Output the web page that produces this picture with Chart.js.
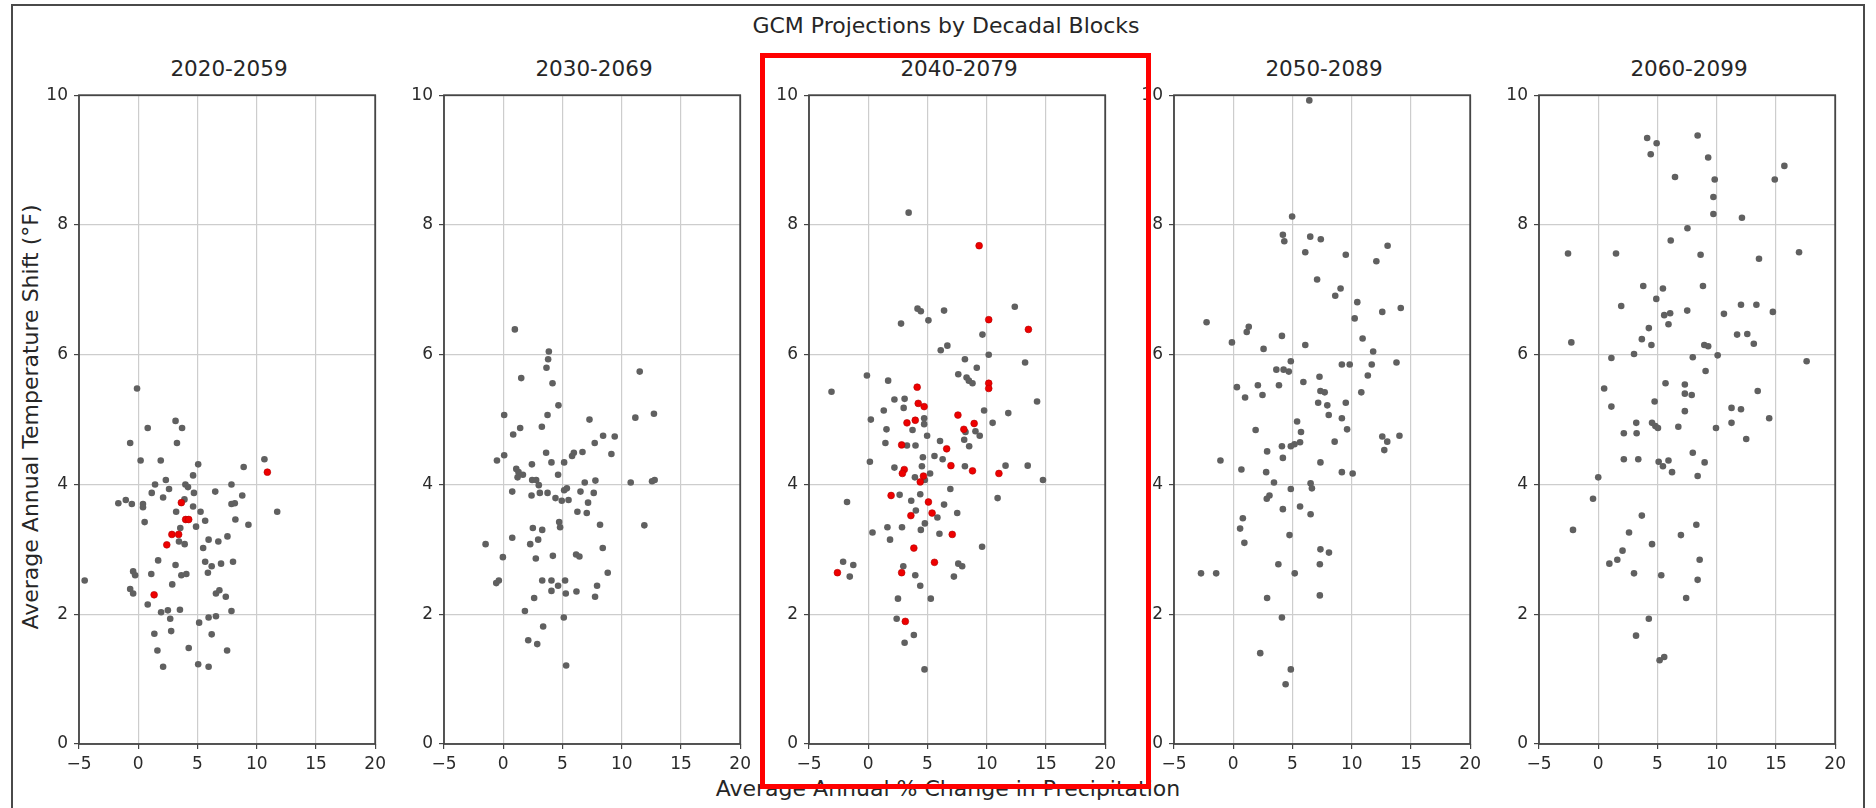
<!DOCTYPE html>
<html>
<head>
<meta charset="utf-8">
<title>GCM Projections by Decadal Blocks</title>
<script src="https://cdn.jsdelivr.net/npm/chart.js@4.4.0/dist/chart.umd.min.js"></script>
<style>
  body {
    margin: 0;
    width: 1876px;
    height: 808px;
    background: #fff;
    overflow: hidden;
    position: relative;
    font-family: "DejaVu Sans", sans-serif;
    color: #262626;
  }
  .frame {
    position: absolute;
    left: 11px;
    top: 4px;
    width: 1854px;
    height: 830px;
    border: 2px solid #4a4a4a;
    box-sizing: border-box;
  }
  .hilite {
    position: absolute;
    left: 760px;
    top: 53px;
    width: 391px;
    height: 736px;
    border: 5px solid #ff0000;
    box-sizing: border-box;
    z-index: 5;
  }
  .panel {
    position: absolute;
  }
  .ptitle {
    position: absolute;
    top: 56px;
    width: 300px;
    text-align: center;
    font-size: 21.5px;
    line-height: 26px;
  }
  .title {
    position: absolute;
    left: 0;
    width: 1892px;
    top: 13px;
    text-align: center;
    font-size: 22px;
    line-height: 26px;
  }
  .xlabel {
    position: absolute;
    left: 0;
    width: 1896px;
    top: 776px;
    text-align: center;
    font-size: 22px;
    line-height: 26px;
  }
  .ylabel {
    position: absolute;
    left: 31px;
    top: 417px;
    width: 480px;
    margin-left: -240px;
    margin-top: -13px;
    text-align: center;
    font-size: 22px;
    line-height: 26px;
    transform: rotate(-90deg);
  }
</style>
</head>
<body>
<div class="frame"></div>
<div class="title">GCM Projections by Decadal Blocks</div>
<div class="ylabel">Average Annual Temperature Shift (°F)</div>
<div class="xlabel">Average Annual % Change in Precipitation</div>
<div id="panels"></div>
<div class="hilite"></div>

<script>
// panel titles
const blocks = ["2020-2059", "2030-2069", "2040-2079", "2050-2089", "2060-2099"];

// axis ticks
const xTicks = [-5, 0, 5, 10, 15, 20];
const yTicks = [0, 2, 4, 6, 8, 10];

// 2020-2059
const gray2020 = [
  [-0.1, 5.48], [3.15, 4.98], [3.7, 4.87], [0.8, 4.87], [3.27, 4.64], [-0.68, 4.64],
  [0.2, 4.37], [1.9, 4.37], [5.06, 4.31], [10.65, 4.39], [8.9, 4.27], [4.63, 4.14],
  [7.87, 4.0], [2.33, 4.07], [1.42, 4.0], [2.6, 3.93], [3.98, 4.0], [4.2, 3.96],
  [4.7, 3.87], [1.14, 3.87], [6.5, 3.89], [2.1, 3.8], [8.78, 3.83], [-1.68, 3.71],
  [-1.05, 3.76], [-0.54, 3.7], [0.4, 3.7], [0.4, 3.65], [3.9, 3.77], [7.87, 3.7],
  [8.15, 3.71], [11.73, 3.58], [4.63, 3.66], [3.2, 3.58], [5.26, 3.58], [0.54, 3.42],
  [5.65, 3.44], [8.2, 3.46], [9.3, 3.38], [4.88, 3.35], [3.55, 3.33], [5.94, 3.15],
  [6.76, 3.12], [7.53, 3.2], [3.44, 3.12], [3.92, 3.08], [5.48, 3.02], [1.68, 2.83],
  [3.15, 2.76], [5.65, 2.81], [6.2, 2.74], [6.99, 2.78], [8.0, 2.81], [5.88, 2.64],
  [-0.43, 2.66], [-0.26, 2.6], [1.1, 2.62], [3.64, 2.6], [4.06, 2.62], [-4.52, 2.52],
  [2.87, 2.46], [-0.68, 2.39], [-0.43, 2.32], [6.56, 2.32], [6.85, 2.37], [7.39, 2.27],
  [0.8, 2.15], [1.93, 2.03], [2.5, 2.06], [2.7, 1.93], [3.52, 2.07], [5.14, 1.87],
  [5.94, 1.95], [6.56, 1.97], [7.87, 2.05], [1.36, 1.7], [2.78, 1.74], [6.2, 1.69],
  [1.62, 1.44], [4.26, 1.48], [7.5, 1.44], [2.1, 1.19], [5.06, 1.23], [5.94, 1.19]
];
const red2020 = [
  [10.9, 4.19], [3.64, 3.72], [4.0, 3.46], [4.26, 3.46], [2.84, 3.23], [3.41, 3.23],
  [2.41, 3.07], [1.34, 2.3]
];

// 2030-2069
const gray2030 = [
  [0.98, 6.39], [3.85, 6.05], [3.79, 5.93], [3.65, 5.8], [11.52, 5.74], [1.52, 5.64],
  [4.16, 5.56], [4.66, 5.22], [0.08, 5.07], [3.74, 5.07], [12.72, 5.09], [11.15, 5.03],
  [7.28, 5.0], [3.26, 4.89], [1.43, 4.87], [0.84, 4.77], [8.43, 4.75], [9.41, 4.74],
  [7.72, 4.64], [3.62, 4.49], [5.96, 4.49], [6.69, 4.5], [9.13, 4.47], [0.08, 4.45],
  [-0.53, 4.37], [4.07, 4.34], [5.14, 4.34], [5.81, 4.44], [2.42, 4.31], [1.1, 4.24],
  [1.29, 4.19], [1.66, 4.15], [1.21, 4.11], [4.63, 4.15], [2.44, 4.07], [2.78, 4.07],
  [3.0, 3.99], [10.76, 4.03], [12.56, 4.05], [12.78, 4.07], [6.88, 4.03], [7.78, 4.06],
  [5.37, 3.94], [5.14, 3.91], [0.76, 3.89], [2.39, 3.83], [3.09, 3.87], [3.74, 3.87],
  [6.52, 3.89], [7.64, 3.87], [4.41, 3.79], [4.94, 3.75], [5.51, 3.76], [7.16, 3.72],
  [6.26, 3.58], [7.05, 3.56], [4.72, 3.42], [4.8, 3.34], [11.91, 3.37], [8.17, 3.38],
  [2.5, 3.33], [3.29, 3.3], [0.76, 3.18], [2.95, 3.15], [2.28, 3.08], [-1.49, 3.08],
  [8.4, 3.02], [-0.03, 2.88], [2.75, 2.86], [4.19, 2.9], [6.15, 2.92], [6.43, 2.89],
  [8.82, 2.64], [-0.59, 2.48], [-0.37, 2.52], [3.29, 2.52], [4.07, 2.52], [5.22, 2.52],
  [4.63, 2.44], [4.07, 2.36], [5.28, 2.32], [6.18, 2.35], [7.92, 2.44], [7.75, 2.27],
  [2.61, 2.25], [1.83, 2.05], [5.11, 1.95], [3.37, 1.81], [2.11, 1.6], [2.87, 1.54],
  [5.31, 1.21]
];
const red2030 = [];

// 2040-2079
const gray2040 = [
  [3.41, 8.19], [4.16, 6.71], [4.44, 6.67], [6.4, 6.68], [12.37, 6.74], [5.08, 6.53],
  [2.77, 6.48], [9.64, 6.31], [6.12, 6.07], [6.68, 6.14], [10.17, 6.0], [8.16, 5.93],
  [13.24, 5.88], [9.16, 5.8], [7.6, 5.7], [8.3, 5.65], [8.49, 5.6], [8.8, 5.56],
  [-0.11, 5.68], [1.68, 5.6], [-3.1, 5.43], [2.21, 5.31], [3.07, 5.32], [14.25, 5.28],
  [2.99, 5.18], [1.31, 5.14], [9.78, 5.14], [11.82, 5.1], [4.72, 5.02], [0.22, 5.0],
  [10.5, 4.95], [4.72, 4.93], [3.74, 4.84], [8.21, 4.81], [1.54, 4.85], [9.05, 4.82],
  [4.97, 4.75], [9.41, 4.75], [8.1, 4.69], [8.52, 4.59], [6.06, 4.67], [1.45, 4.64],
  [3.27, 4.6], [3.99, 4.6], [5.59, 4.44], [4.61, 4.42], [6.28, 4.39], [0.14, 4.35],
  [8.16, 4.28], [11.59, 4.29], [13.46, 4.29], [2.21, 4.26], [4.53, 4.28], [5.22, 4.17],
  [14.75, 4.07], [3.94, 4.11], [4.78, 4.07], [6.93, 3.93], [2.65, 3.84], [4.39, 3.85],
  [10.92, 3.79], [-1.79, 3.73], [3.63, 3.75], [6.4, 3.69], [4.02, 3.6], [7.51, 3.56],
  [5.84, 3.49], [4.78, 3.4], [1.62, 3.34], [2.85, 3.34], [4.44, 3.3], [0.36, 3.26],
  [6.01, 3.24], [1.84, 3.15], [9.61, 3.04], [-2.12, 2.81], [-1.26, 2.76], [-1.56, 2.58],
  [2.96, 2.74], [7.6, 2.78], [7.93, 2.74], [3.97, 2.6], [7.23, 2.58], [4.39, 2.44],
  [2.51, 2.24], [5.28, 2.24], [2.4, 1.93], [3.85, 1.68], [3.07, 1.56], [4.75, 1.15]
];
const red2040 = [
  [9.36, 7.68], [10.17, 6.54], [13.52, 6.39], [4.13, 5.5], [10.17, 5.56], [10.17, 5.48],
  [4.22, 5.25], [4.72, 5.2], [7.57, 5.07], [3.27, 4.95], [3.97, 4.99], [8.94, 4.94],
  [8.07, 4.85], [2.82, 4.61], [6.62, 4.55], [6.98, 4.29], [3.04, 4.23], [2.88, 4.17],
  [8.8, 4.21], [11.03, 4.17], [4.66, 4.13], [4.39, 4.04], [1.93, 3.83], [5.08, 3.73],
  [5.39, 3.56], [3.6, 3.52], [7.09, 3.23], [3.85, 3.02], [5.59, 2.8], [-2.6, 2.64],
  [2.82, 2.64], [3.13, 1.89]
];

// 2050-2089
const gray2050 = [
  [6.42, 9.92], [4.97, 8.13], [4.19, 7.85], [4.31, 7.75], [6.5, 7.82], [7.39, 7.78],
  [13.03, 7.68], [6.08, 7.58], [9.5, 7.54], [12.08, 7.44], [7.08, 7.16], [9.06, 7.02],
  [8.61, 6.91], [10.47, 6.81], [14.14, 6.72], [12.58, 6.66], [10.25, 6.56], [-2.25, 6.5],
  [1.31, 6.43], [1.14, 6.35], [4.11, 6.29], [10.92, 6.25], [-0.11, 6.19], [6.08, 6.15],
  [2.56, 6.09], [11.81, 6.05], [4.86, 5.9], [9.17, 5.85], [9.83, 5.85], [11.69, 5.85],
  [13.78, 5.88], [3.64, 5.77], [4.25, 5.77], [4.69, 5.74], [11.36, 5.68], [7.28, 5.66],
  [5.92, 5.58], [2.08, 5.53], [3.86, 5.53], [0.31, 5.5], [10.81, 5.42], [7.36, 5.44],
  [7.72, 5.42], [2.47, 5.38], [1.0, 5.34], [7.17, 5.26], [7.94, 5.22], [9.5, 5.26],
  [8.06, 5.07], [9.17, 5.02], [5.39, 4.97], [9.61, 4.85], [1.89, 4.84], [5.72, 4.81],
  [14.03, 4.75], [12.58, 4.74], [13.0, 4.66], [12.75, 4.53], [8.56, 4.66], [4.11, 4.59],
  [4.86, 4.59], [5.17, 4.62], [5.64, 4.65], [2.86, 4.51], [4.19, 4.41], [-1.08, 4.37],
  [7.36, 4.34], [0.69, 4.23], [2.78, 4.19], [9.17, 4.19], [10.08, 4.17], [3.44, 4.03],
  [6.53, 4.02], [6.64, 3.94], [4.86, 3.93], [3.06, 3.83], [2.83, 3.78], [5.64, 3.66],
  [4.19, 3.62], [6.53, 3.54], [0.81, 3.48], [0.58, 3.32], [0.94, 3.1], [4.75, 3.22],
  [7.36, 3.0], [8.08, 2.95], [3.81, 2.77], [7.31, 2.77], [-2.72, 2.63], [-1.44, 2.63],
  [5.19, 2.63], [2.86, 2.25], [7.31, 2.29], [4.11, 1.95], [2.28, 1.4], [4.86, 1.15],
  [4.42, 0.92]
];
const red2050 = [];

// 2060-2099
const gray2060 = [
  [8.39, 9.38], [4.13, 9.34], [4.93, 9.26], [4.43, 9.09], [9.28, 9.04], [15.71, 8.91],
  [6.48, 8.74], [9.83, 8.7], [14.9, 8.7], [9.72, 8.43], [9.72, 8.17], [12.13, 8.11],
  [7.53, 7.95], [6.12, 7.76], [-2.55, 7.56], [1.5, 7.56], [8.64, 7.54], [16.95, 7.58],
  [13.57, 7.48], [3.8, 7.06], [5.46, 7.02], [8.84, 7.06], [4.9, 6.86], [1.94, 6.75],
  [12.05, 6.77], [13.35, 6.77], [7.51, 6.68], [14.74, 6.66], [10.61, 6.63], [5.57, 6.61],
  [6.07, 6.64], [5.93, 6.47], [4.27, 6.41], [11.72, 6.31], [12.58, 6.32], [3.68, 6.24],
  [-2.27, 6.19], [4.49, 6.15], [8.95, 6.15], [9.28, 6.13], [13.13, 6.17], [3.02, 6.01],
  [1.11, 5.95], [7.98, 5.96], [10.08, 5.99], [17.59, 5.9], [9.06, 5.75], [5.68, 5.56],
  [7.31, 5.54], [0.5, 5.48], [7.31, 5.4], [7.89, 5.38], [13.46, 5.44], [4.76, 5.28],
  [1.11, 5.2], [11.25, 5.18], [12.05, 5.16], [7.31, 5.13], [14.43, 5.02], [3.21, 4.95],
  [4.54, 4.95], [4.82, 4.9], [5.04, 4.87], [6.76, 4.89], [9.94, 4.87], [11.25, 4.95],
  [2.16, 4.79], [3.24, 4.79], [12.49, 4.7], [7.98, 4.49], [2.16, 4.39], [3.38, 4.39],
  [5.1, 4.35], [5.93, 4.37], [5.46, 4.28], [6.23, 4.19], [8.98, 4.34], [8.39, 4.13],
  [0.0, 4.11], [-0.44, 3.78], [3.68, 3.52], [8.28, 3.38], [-2.13, 3.3], [2.6, 3.26],
  [6.98, 3.22], [4.54, 3.08], [2.05, 2.98], [1.61, 2.84], [0.94, 2.78], [8.56, 2.84],
  [3.02, 2.63], [5.32, 2.6], [8.39, 2.53], [7.42, 2.25], [4.27, 1.93], [3.19, 1.67],
  [5.18, 1.29], [5.57, 1.34]
];
const red2060 = [];

const grayByBlock = [gray2020, gray2030, gray2040, gray2050, gray2060];
const redByBlock = [red2020, red2030, red2040, red2050, red2060];

// layout (pixels)
const PLOT_LEFTS = [79, 444, 809, 1174, 1539];
const PLOT_W = 300;
const PLOT_TOP = 89;
const PLOT_H = 655;
const PAD_L = 50;   // room for y tick labels
const PAD_T = 10;
const PAD_R = 12;
const PAD_B = 40;   // room for x tick labels

const GRID = "#cdcdcd";
const SPINE = "#454545";
const TICK_TXT = "#2b2b2b";

const toPts = (arr) => arr.map((p) => ({ x: p[0], y: p[1] }));

// matplotlib-like spines on all four sides
const boxPlugin = {
  id: "box",
  afterDraw(chart) {
    const { ctx, chartArea: a } = chart;
    ctx.save();
    ctx.strokeStyle = SPINE;
    ctx.lineWidth = 1.8;
    ctx.strokeRect(a.left, a.top, a.right - a.left, a.bottom - a.top);
    ctx.restore();
  },
};

const holder = document.getElementById("panels");

blocks.forEach((name, i) => {
  const left = PLOT_LEFTS[i];

  const t = document.createElement("div");
  t.className = "ptitle";
  t.style.left = left + "px";
  t.textContent = name;
  holder.appendChild(t);

  const c = document.createElement("canvas");
  c.className = "panel";
  c.width = PAD_L + PLOT_W + PAD_R;
  c.height = PAD_T + PLOT_H + PAD_B;
  c.style.left = left - PAD_L + "px";
  c.style.top = PLOT_TOP - PAD_T + "px";
  holder.appendChild(c);

  new Chart(c.getContext("2d"), {
    type: "scatter",
    data: {
      datasets: [
        {
          label: "highlight",
          data: toPts(redByBlock[i]),
          backgroundColor: "#ee0000",
          borderColor: "#b30000",
          borderWidth: 0.6,
          pointRadius: 3.4,
        },
        {
          label: "GCM",
          data: toPts(grayByBlock[i]),
          backgroundColor: "#606060",
          borderWidth: 0,
          pointRadius: 3.3,
        },
      ],
    },
    options: {
      responsive: false,
      animation: false,
      layout: { padding: { top: PAD_T, right: PAD_R, left: 0, bottom: 0 } },
      plugins: {
        legend: { display: false },
        tooltip: { enabled: false },
      },
      scales: {
        x: {
          type: "linear",
          min: xTicks[0],
          max: xTicks[xTicks.length - 1],
          afterBuildTicks: (s) => {
            s.ticks = xTicks.map((v) => ({ value: v }));
          },
          afterFit: (s) => {
            s.height = PAD_B;
          },
          border: { display: false },
          grid: {
            color: GRID,
            lineWidth: 1.2,
            tickColor: SPINE,
            tickLength: 5,
          },
          ticks: {
            color: TICK_TXT,
            font: { family: "DejaVu Sans", size: 17 },
            padding: 5,
            maxRotation: 0,
            callback: (v) => (v < 0 ? "\u2212" + Math.abs(v) : String(v)),
          },
        },
        y: {
          type: "linear",
          min: yTicks[0],
          max: yTicks[yTicks.length - 1],
          afterBuildTicks: (s) => {
            s.ticks = yTicks.map((v) => ({ value: v }));
          },
          afterFit: (s) => {
            s.width = PAD_L;
          },
          border: { display: false },
          grid: {
            color: GRID,
            lineWidth: 1.2,
            tickColor: SPINE,
            tickLength: 5,
          },
          ticks: {
            color: TICK_TXT,
            font: { family: "DejaVu Sans", size: 17 },
            padding: 6,
          },
        },
      },
    },
    plugins: [boxPlugin],
  });
});
</script>
</body>
</html>
